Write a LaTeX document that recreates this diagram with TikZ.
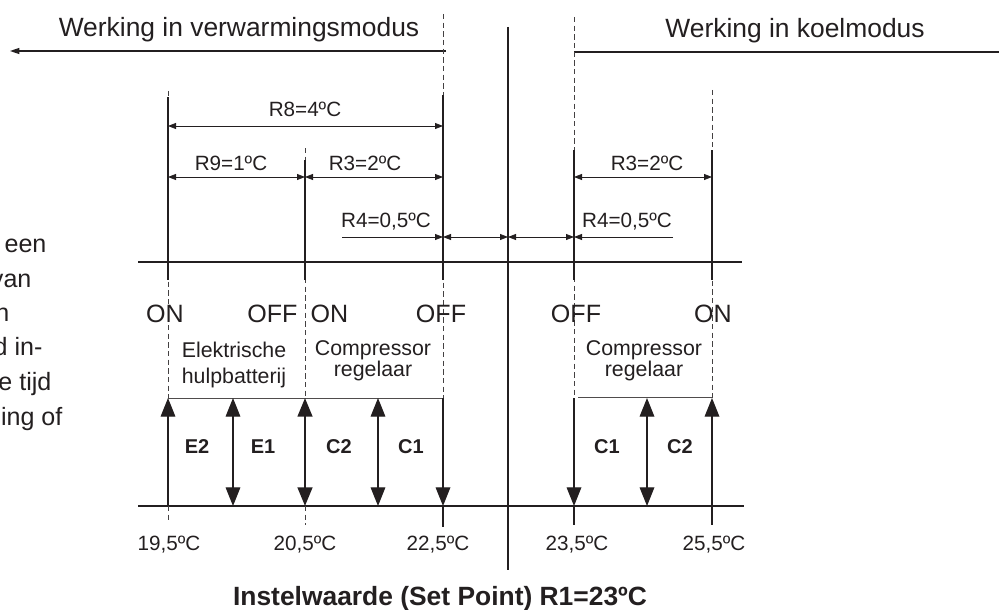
\documentclass[tikz,border=0pt]{standalone}
\usepackage{fontspec}
\setmainfont{Liberation Sans}
\usetikzlibrary{arrows.meta}

\definecolor{ink}{HTML}{231F20}

\begin{document}
\begin{tikzpicture}[
    x=0.75pt, y=-0.75pt,
    color=ink, line width=0.9pt,
    title/.style={font=\fontsize{19.8}{23}\selectfont, inner sep=0pt},
    state/.style={font=\fontsize{18.8}{22}\selectfont, inner sep=0pt},
    para/.style={font=\fontsize{18.8}{22}\selectfont, inner sep=0pt, anchor=base east},
    part/.style={font=\fontsize{16}{19.5}\selectfont, inner sep=0pt, align=center, anchor=north},
    val/.style={font=\fontsize{15.5}{18}\selectfont, inner sep=0pt, anchor=base},
    lbl/.style={font=\fontsize{15}{18}\selectfont\bfseries, inner sep=0pt, anchor=base},
    guide/.style={dash pattern=on 4pt off 2.5pt, line width=0.6pt, ink!85},
    dim/.style={{Triangle[length=6pt,width=4.5pt]}-{Triangle[length=6pt,width=4.5pt]}, line width=0.6pt},
    dimto/.style={-{Triangle[length=6pt,width=4.5pt]}, line width=0.6pt},
    band/.style={-{Triangle[length=14pt,width=11pt]}, line width=0.9pt},
    bands/.style={{Triangle[length=14pt,width=11pt]}-{Triangle[length=14pt,width=11pt]}, line width=0.9pt}
]
  \useasboundingbox (0,0) rectangle (999,610);

  % --- columns (on the lower axis) ---
  \coordinate (on195)  at (168,506);
  \coordinate (off205) at (305,506);
  \coordinate (off225) at (443,506);
  \coordinate (sp)     at (508,506);
  \coordinate (off235) at (574,506);
  \coordinate (on255)  at (712,506);
  \coordinate (e1)     at (233,506);
  \coordinate (c1h)    at (378,506);
  \coordinate (c1k)    at (647,506);

  % --- cut-off text of the page (left) ---
  \node[para] (p1) at (47,252) {een};
  \node[para] (p2) at (32,287) {van};
  \node[para] (p3) at (10,321) {n};
  \node[para] (p4) at (43,355) {d in-};
  \node[para] (p5) at (52,390) {e tijd};
  \node[para] (p6) at (63,425) {ing of};

  % --- modes ---
  \node[title, anchor=base] (heat) at (239,37) {Werking in verwarmingsmodus};
  \node[title, anchor=base] (cool) at (795,38) {Werking in koelmodus};
  \draw[-{Triangle[length=7pt,width=4.5pt]}] (446,51) coordinate (heatR) -- (10,51) coordinate (heatL);
  \draw (off235 |- 0,52) -- (1005,52) coordinate (coolR);

  % --- guide lines ---
  \draw[guide] (on195 |- 0,91) -- (on195 |- 0,398);
  \draw[guide] (off205 |- 0,148) -- (off205 |- 0,398);
  \draw[guide] (off225 |- 0,14) -- (off225 |- 0,398);
  \draw[guide] (off235 |- 0,17) -- (off235 |- 0,398);
  \draw[guide] (on255 |- 0,90) -- (on255 |- 0,398);
  \draw (on195 |- 0,97) -- (on195 |- 0,280);
  \draw (off205 |- 0,160) -- (off205 |- 0,280);
  \draw (off225 |- 0,95) -- (off225 |- 0,280);
  \draw (off235 |- 0,150) -- (off235 |- 0,280);
  \draw (on255 |- 0,150) -- (on255 |- 0,280);
  \draw (sp |- 0,27) -- (sp |- 0,570);

  % --- axes ---
  \draw (138,262) coordinate (upL) -- (742,262) coordinate (upR);
  \draw (138,506) coordinate (loL) -- (744,506) coordinate (loR);

  % --- differentials ---
  \draw[dim] (on195 |- 0,126) -- (off225 |- 0,126);
  \node[val] (r8) at (305,116) {R8=4ºC};
  \draw[dim] (on195 |- 0,177) -- (off205 |- 0,177);
  \node[val] (r9) at (231,170) {R9=1ºC};
  \draw[dim] (off205 |- 0,177) -- (off225 |- 0,177);
  \node[val] (r3h) at (365,170) {R3=2ºC};
  \draw[dim] (off235 |- 0,177) -- (on255 |- 0,177);
  \node[val] (r3k) at (647,170) {R3=2ºC};

  \draw[dimto] (342,237) coordinate (r4hL) -- (off225 |- 0,237);
  \draw[dim] (off225 |- 0,237) -- (sp |- 0,237);
  \draw[dim] (sp |- 0,237) -- (off235 |- 0,237);
  \draw[dimto] (673,237) coordinate (r4kR) -- (off235 |- 0,237);
  \node[val] (r4h) at (386,227) {R4=0,5ºC};
  \node[val] (r4k) at (627,227) {R4=0,5ºC};

  % --- switching points ---
  \node[state, anchor=base] (s1) at (165,322) {ON};
  \node[state, anchor=base east] (s2) at (298,322) {OFF};
  \node[state, anchor=base west] (s3) at (310,322) {ON};
  \node[state, anchor=base] (s4) at (441,322) {OFF};
  \node[state, anchor=base] (s5) at (576,322) {OFF};
  \node[state, anchor=base] (s6) at (713,322) {ON};

  \node[part] (bat) at (234,341) {Elektrische\\hulpbatterij};
  \node[part, font=\fontsize{16}{15.8}\selectfont] (comph) at (373,340) {Compressor\\regelaar};
  \node[part, font=\fontsize{16}{15.8}\selectfont] (compk) at (644,340) {Compressor\\regelaar};

  % --- steps ---
  \draw[line width=0.7pt, ink!80] (on195 |- 0,398) -- (off225 |- 0,398);
  \draw[line width=0.7pt, ink!80] (578,397) -- (on255 |- 0,397);

  \draw[band] (on195) -- (on195 |- 0,398);
  \draw[bands] (e1 |- 0,398) -- (e1);
  \draw[bands, line width=1.8pt] (off205 |- 0,398) -- (off205);
  \draw[bands] (c1h |- 0,398) -- (c1h);
  \draw[band] (off225 |- 0,398) -- (off225);
  \draw[band] (off235 |- 0,398) -- (off235);
  \draw[bands] (c1k |- 0,398) -- (c1k);
  \draw[band] (on255) -- (on255 |- 0,398);

  \node[lbl] (e2l) at (197,453) {E2};
  \node[lbl] (e1l) at (263,453) {E1};
  \node[lbl] (c2h) at (339,453) {C2};
  \node[lbl] (c1hl) at (411,453) {C1};
  \node[lbl] (c1kl) at (607,453) {C1};
  \node[lbl] (c2k) at (680,453) {C2};

  % --- temperatures ---
  \draw[guide] (on195) -- ++(0,16);
  \draw[guide] (off205) -- ++(0,19);
  \draw (off225) -- ++(0,21);
  \draw (off235) -- ++(0,19);
  \draw (on255) -- ++(0,19);

  \node[val] (t1) at (169,550) {19,5ºC};
  \node[val] (t2) at (305,550) {20,5ºC};
  \node[val] (t3) at (438,550) {22,5ºC};
  \node[val] (t4) at (577,550) {23,5ºC};
  \node[val] (t5) at (714,550) {25,5ºC};

  \node[title, font=\fontsize{19.8}{23}\selectfont\bfseries, anchor=base] (setp) at (440,605)
    {Instelwaarde (Set Point) R1=23ºC};

\end{tikzpicture}
\end{document}
